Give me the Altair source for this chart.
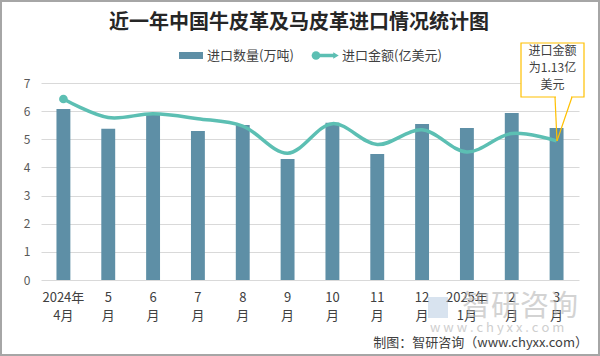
import altair as alt
import pandas as pd

# ---- data ----
months = ["2024年|4月", "5|月", "6|月", "7|月", "8|月", "9|月", "10|月",
          "11|月", "12|月", "2025年|1月", "2|月", "3|月"]
qty = [6.08, 5.37, 5.92, 5.29, 5.51, 4.30, 5.59, 4.48, 5.54, 5.40, 5.93, 5.40]      # 万吨
amount = [1.47, 1.32, 1.35, 1.31, 1.25, 1.03, 1.27, 1.10, 1.22, 1.04, 1.19, 1.13]  # 亿美元
y_ticks = [0, 1, 2, 3, 4, 5, 6, 7]

title_text = "近一年中国牛皮革及马皮革进口情况统计图"
legend_bar = "进口数量(万吨)"
legend_line = "进口金额(亿美元)"
note_text = "进口金额\n为1.13亿\n美元"
footer_text = "制图：智研咨询（www.chyxx.com）"

df = pd.DataFrame({"month": months, "qty": qty, "amount": amount, "idx": list(range(len(months)))})
one = pd.DataFrame({"t": [""]})

FONT = "Noto Sans CJK SC"
BAR = "#5e8fa6"
LINE = "#5cbfb3"
GOLD = "#ffc000"

x_enc = alt.X(
    "month:N", sort=months,
    scale=alt.Scale(paddingInner=0.69, paddingOuter=0.345),
    axis=alt.Axis(title=None, labelAngle=0, labelExpr="split(datum.label, '|')",
                  ticks=False, domain=False, labelFontSize=13, labelColor="#404040",
                  labelFont=FONT, labelPadding=11, labelLineHeight=18,
                  labelOverlap=False, labelBound=False, labelFlush=False),
)

bars = alt.Chart(df).mark_bar(color=BAR).encode(
    x=x_enc,
    y=alt.Y("qty:Q", scale=alt.Scale(domain=[0, 7]),
            axis=alt.Axis(title=None, values=y_ticks, grid=True, gridColor="#d9d9d9",
                          domain=False, ticks=False, labelPadding=11, labelFontSize=12,
                          labelColor="#595959", labelFont=FONT)),
)

line = alt.Chart(df).mark_line(color=LINE, strokeWidth=3.5, interpolate="catmull-rom").encode(
    x=alt.X("month:N", sort=months),
    y=alt.Y("amount:Q", scale=alt.Scale(domain=[0, 1.6]), axis=None),
)

first_pt = alt.Chart(df).transform_filter(alt.datum.idx == 0).mark_circle(
    color=LINE, size=75, opacity=1).encode(
    x=alt.X("month:N", sort=months),
    y=alt.Y("amount:Q", scale=alt.Scale(domain=[0, 1.6]), axis=None),
)

# ---- decorations (pixel positions relative to plot area) ----
border = alt.Chart(one).mark_rect(fillOpacity=0, stroke="#a6a6a6", strokeWidth=2).encode(
    x=alt.value(-40), x2=alt.value(558), y=alt.value(-82), y2=alt.value(272))

title = alt.Chart(pd.DataFrame({"t": [title_text]})).mark_text(
    font=FONT, fontSize=20, fontWeight="bold", color="#262626", align="center",
    baseline="middle").encode(text="t:N", x=alt.value(258), y=alt.value(-60))

leg_rect = alt.Chart(one).mark_rect(color=BAR).encode(
    x=alt.value(138), x2=alt.value(162), y=alt.value(-31), y2=alt.value(-24))
leg_t1 = alt.Chart(pd.DataFrame({"t": [legend_bar]})).mark_text(
    font=FONT, fontSize=13, color="#404040", align="left", baseline="middle").encode(
    text="t:N", x=alt.value(166), y=alt.value(-27.5))
leg_line = alt.Chart(one).mark_rule(color=LINE, strokeWidth=3.5).encode(
    x=alt.value(275), x2=alt.value(294), y=alt.value(-27.5))
leg_dot = alt.Chart(one).mark_circle(color=LINE, size=75, opacity=1).encode(
    x=alt.value(275), y=alt.value(-27.5))
leg_arrow = alt.Chart(one).mark_point(shape="triangle-right", filled=True, color=LINE,
                                      size=40, opacity=1).encode(
    x=alt.value(295), y=alt.value(-27.5))
leg_t2 = alt.Chart(pd.DataFrame({"t": [legend_line]})).mark_text(
    font=FONT, fontSize=13, color="#404040", align="left", baseline="middle").encode(
    text="t:N", x=alt.value(301), y=alt.value(-27.5))

note_box = alt.Chart(one).mark_rect(fill="white", stroke=GOLD, strokeWidth=1.2).encode(
    x=alt.value(480), x2=alt.value(543), y=alt.value(-40), y2=alt.value(14))
note_gap = alt.Chart(one).mark_rule(color="white", strokeWidth=2).encode(
    x=alt.value(515), x2=alt.value(530), y=alt.value(14))
note_p1 = alt.Chart(one).mark_rule(color=GOLD, strokeWidth=1.2).encode(
    x=alt.value(514), x2=alt.value(516), y=alt.value(14), y2=alt.value(58))
note_p2 = alt.Chart(one).mark_rule(color=GOLD, strokeWidth=1.2).encode(
    x=alt.value(531), x2=alt.value(516), y=alt.value(14), y2=alt.value(58))
note_txt = alt.Chart(pd.DataFrame({"t": [note_text]})).mark_text(
    font=FONT, fontSize=12, color="#404040", align="center", baseline="top",
    lineBreak="\n", lineHeight=17).encode(text="t:N", x=alt.value(511.5), y=alt.value(-37))

wm_logo = alt.Chart(one).mark_rect(color="#a9c2dc", opacity=0.45).encode(
    x=alt.value(387), x2=alt.value(407), y=alt.value(214), y2=alt.value(235))
wm_text = alt.Chart(pd.DataFrame({"t": ["智研咨询"]})).mark_text(
    font=FONT, fontSize=29, color="#b0b0b0", opacity=0.55, align="left",
    baseline="middle").encode(text="t:N", x=alt.value(421), y=alt.value(224))
wm_url = alt.Chart(pd.DataFrame({"t": ["w w w . c h y x x . c o m"]})).mark_text(
    font=FONT, fontSize=13, color="#b0b0b0", opacity=0.6, align="left",
    baseline="middle").encode(text="t:N", x=alt.value(389), y=alt.value(245))

footer = alt.Chart(pd.DataFrame({"t": [footer_text]})).mark_text(
    font=FONT, fontSize=13, color="#404040", align="right", baseline="middle").encode(
    text="t:N", x=alt.value(547), y=alt.value(260))

chart = alt.layer(
    border, bars, line, first_pt, title,
    leg_rect, leg_t1, leg_line, leg_dot, leg_arrow, leg_t2,
    wm_logo, wm_text, wm_url, footer,
    note_box, note_gap, note_p1, note_p2, note_txt,
).resolve_scale(y="independent").properties(
    width=538, height=197,
    padding={"left": 41, "top": 83, "right": 21, "bottom": 76},
    autosize=alt.AutoSizeParams(type="none"),
    background="white",
).configure_view(stroke=None)

chart.save("out.html", embed_options={"renderer": "svg", "actions": False})
